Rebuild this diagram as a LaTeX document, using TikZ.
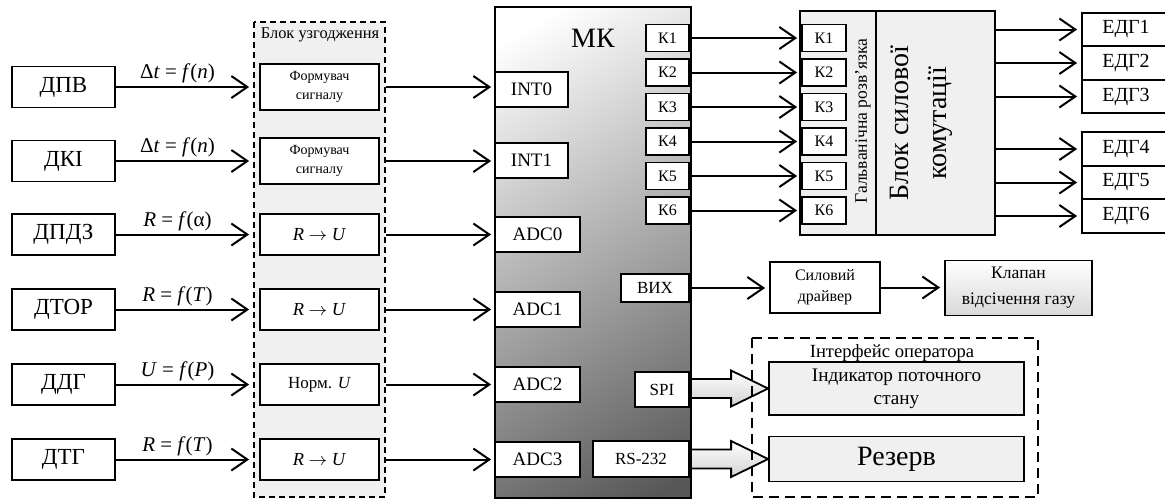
\documentclass[tikz,border=0pt]{standalone}
\usepackage{fontspec}
\setmainfont{Liberation Serif}
\usetikzlibrary{arrows.meta,calc}

\pgfdeclareverticalshading{mkshade}{100bp}{color(0bp)=(black!66); color(18bp)=(black!66); color(80bp)=(white); color(100bp)=(white)}

\tikzset{
  box/.style={draw,line width=0.9pt,fill=white,align=center,inner sep=1pt},
  sensor/.style={box,minimum width=51.5pt,minimum height=20.5pt,font=\fontsize{11.5}{13}\selectfont},
  conv/.style={box,minimum width=59.5pt,minimum height=20.5pt,font=\fontsize{9.2}{11}\selectfont},
  port/.style={box,minimum height=17.5pt,font=\fontsize{9.5}{11}\selectfont},
  kport/.style={box,minimum width=21.5pt,minimum height=13.5pt,font=\fontsize{8}{9}\selectfont},
  edg/.style={box,minimum width=44pt,minimum height=16.75pt,font=\fontsize{10}{12}\selectfont},
  sig/.style={line width=1pt,-{Straight Barb[length=8pt,width=11pt]}},
  lbl/.style={font=\fontsize{10.5}{12}\selectfont,inner sep=1.5pt},
  wide/.style={draw,line width=0.9pt,top color=white,bottom color=gray!35},
  group/.style={draw,line width=0.6pt,dash pattern=on 3pt off 2pt}
}

\begin{document}
\begin{tikzpicture}[x=0.5pt,y=-0.5pt]
  \useasboundingbox (0,0) rectangle (1165,500);
  % matching block
  \draw[group,fill=gray!12] (254,22) rectangle (385,497);
  \node[font=\fontsize{8.2}{10}\selectfont] (mtitle) at (320,35) {Блок узгодження};
  % sensors
  \node[sensor] (dpv)  at (63.5,87)    {ДПВ};
  \node[sensor] (dki)  at (63.5,161)   {ДКІ};
  \node[sensor] (dpdz) at (63.5,234.5) {ДПДЗ};
  \node[sensor] (dtor) at (63.5,309.5) {ДТОР};
  \node[sensor] (ddg)  at (63.5,384.5) {ДДГ};
  \node[sensor] (dtg)  at (63.5,459.5) {ДТГ};
  \node[conv,minimum height=23pt,font=\fontsize{7}{9.5}\selectfont] (fs1) at (319.5,87) {Формувач\\сигналу};
  \node[conv,minimum height=23pt,font=\fontsize{7}{9.5}\selectfont] (fs2) at (319.5,161) {Формувач\\сигналу};
  \node[conv] (ru1)  at (319.5,234.5) {\textit{R} $\rightarrow$ \textit{U}};
  \node[conv] (ru2)  at (319.5,309.5) {\textit{R} $\rightarrow$ \textit{U}};
  \node[conv,font=\fontsize{8.5}{10}\selectfont] (norm) at (319.5,384.5) {Норм. \textit{U}};
  \node[conv] (ru3)  at (319.5,459.5) {\textit{R} $\rightarrow$ \textit{U}};
  \draw[sig,shorten >=5pt] (dpv) -- (dpv -| fs1.west)
    node[lbl,pos=0.43,above] {Δ\textit{t} = \textit{f}(\textit{n})};
  \draw[sig,shorten >=5pt] (dki) -- (dki -| fs2.west)
    node[lbl,pos=0.43,above] {Δ\textit{t} = \textit{f}(\textit{n})};
  \draw[sig,shorten >=5pt] (dpdz) -- (ru1)
    node[lbl,pos=0.43,above] {\textit{R} = \textit{f}(α)};
  \draw[sig,shorten >=5pt] (dtor) -- (ru2)
    node[lbl,pos=0.43,above] {\textit{R} = \textit{f}(\textit{T})};
  \draw[sig,shorten >=5pt] (ddg) -- (norm)
    node[lbl,pos=0.43,above] {\textit{U} = \textit{f}(\textit{P})};
  \draw[sig,shorten >=5pt] (dtg) -- (ru3)
    node[lbl,pos=0.43,above] {\textit{R} = \textit{f}(\textit{T})};

  % microcontroller
  \node[draw,line width=1pt,shade,shading=mkshade,shading angle=30,
    minimum width=98pt,minimum height=245.5pt] (mk) at (593,252.5) {};
  \node[font=\fontsize{14}{16}\selectfont] (mkname) at (593,38) {МК};
  \node[port,minimum width=36.5pt] (int0) at (531.5,89.5)  {INT0};
  \node[port,minimum width=36.5pt] (int1) at (531.5,160.5) {INT1};
  \node[port,minimum width=42.5pt] (adc0) at (537.5,234.5) {ADC0};
  \node[port,minimum width=42.5pt] (adc1) at (537.5,309.5) {ADC1};
  \node[port,minimum width=42.5pt] (adc2) at (537.5,384.5) {ADC2};
  \node[port,minimum width=42.5pt] (adc3) at (537.5,459.5) {ADC3};
  \node[port,minimum width=34pt,minimum height=14pt,font=\fontsize{8.5}{10}\selectfont] (vyh) at (655,288) {ВИХ};
  \node[port,minimum width=27pt,font=\fontsize{8.5}{10}\selectfont] (spi) at (662,389.5) {SPI};
  \node[port,minimum width=48pt,minimum height=18pt,font=\fontsize{8.5}{10}\selectfont] (rs) at (641,459) {RS-232};
  \draw[sig,shorten <=3pt,shorten >=1.5pt] (fs1) -- (fs1 -| int0.west);
  \draw[sig,shorten <=3pt,shorten >=1.5pt] (fs2) -- (fs2 -| int1.west);
  \draw[sig,shorten <=3pt,shorten >=1.5pt] (ru1) -- (adc0);
  \draw[sig,shorten <=3pt,shorten >=1.5pt] (ru2) -- (adc1);
  \draw[sig,shorten <=3pt,shorten >=1.5pt] (norm) -- (adc2);
  \draw[sig,shorten <=3pt,shorten >=1.5pt] (ru3) -- (adc3);

  % isolation and power switching
  \node[draw,line width=1pt,fill=gray!12,minimum width=38pt,minimum height=112pt] (gr) at (838,123) {};
  \node[draw,line width=1pt,fill=gray!12,minimum width=59.5pt,minimum height=112pt] (bsk) at (935.5,123) {};
  \node[rotate=90,font=\fontsize{8.8}{10}\selectfont] (grtext) at (863,121) {Гальванічна розв’язка};
  \node[rotate=90,align=center,font=\fontsize{14}{19}\selectfont] (bsktext) at (921,123) {Блок силової\\комутації};
  \foreach \i [evaluate=\i as \y using 38+34.5*(\i-1)] in {1,...,6}{
    \node[kport] (k\i) at (667.5,\y) {К\i};
    \node[kport,minimum width=22pt] (gk\i) at (824,\y) {К\i};
    \draw[sig,shorten >=2pt] (k\i) -- (gk\i);
  }
  \foreach \i/\y in {1/29.5,2/63,3/96.5,4/149,5/182.5,6/216}{
    \node[edg] (edg\i) at (1126,\y) {ЕДГ\i};
    \draw[sig,shorten >=2pt] (bsk.east |- edg\i) -- (edg\i.west);
  }

  % gas valve
  \node[box,minimum width=55pt,minimum height=25.5pt,font=\fontsize{8}{10.5}\selectfont] (drv) at (825,287.5) {Силовий\\драйвер};
  \node[box,top color=white,bottom color=gray!30,minimum width=73.5pt,minimum height=27.5pt,
    font=\fontsize{8.8}{13}\selectfont] (valve) at (1018.5,288) {Клапан\\відсічення газу};
  \draw[sig,shorten >=2pt] (vyh) -- (vyh -| drv.west);
  \draw[sig,shorten >=2pt] (drv) -- (drv -| valve.west);

  % operator interface
  \node[font=\fontsize{9.3}{11}\selectfont] (ifc) at (892,353) {Інтерфейс оператора};
  \node[box,fill=gray!12,minimum width=127.5pt,minimum height=26.5pt,font=\fontsize{9.6}{11.5}\selectfont] (ind) at (896.5,388.5) {Індикатор поточного\\стану};
  \node[box,fill=gray!12,minimum width=127.5pt,minimum height=22.5pt,font=\fontsize{14}{16}\selectfont] (res) at (896.5,459) {Резерв};
  \draw[wide] ($(mk.east |- ind.west)+(0,-9.5)$) -- ($(ind.west)+(-37,-9.5)$) -- ($(ind.west)+(-37,-18)$)
    -- (ind.west) -- ($(ind.west)+(-37,18)$) -- ($(ind.west)+(-37,9.5)$) -- ($(mk.east |- ind.west)+(0,9.5)$);
  \draw[wide] ($(mk.east |- res.west)+(0,-9.5)$) -- ($(res.west)+(-37,-9.5)$) -- ($(res.west)+(-37,-18)$)
    -- (res.west) -- ($(res.west)+(-37,18)$) -- ($(res.west)+(-37,9.5)$) -- ($(mk.east |- res.west)+(0,9.5)$);
  \draw[group,line width=0.8pt,dash pattern=on 5pt off 3pt] (752,338) rectangle (1038,497);
\end{tikzpicture}
\end{document}
